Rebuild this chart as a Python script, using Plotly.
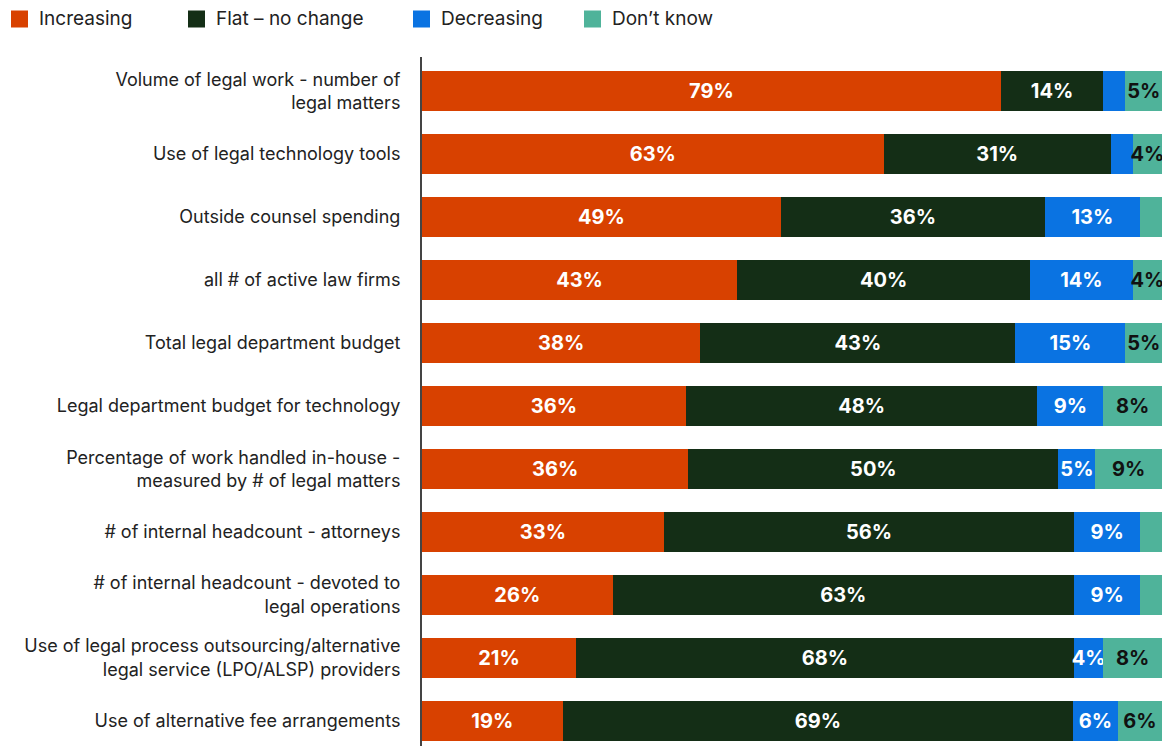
import plotly.graph_objects as go

# Survey items, top to bottom
categories = [
    "Volume of legal work - number of<br>legal matters",
    "Use of legal technology tools",
    "Outside counsel spending",
    "all # of active law firms",
    "Total legal department budget",
    "Legal department budget for technology",
    "Percentage of work handled in-house -<br>measured by # of legal matters",
    "# of internal headcount - attorneys",
    "# of internal headcount - devoted to<br>legal operations",
    "Use of legal process outsourcing/alternative<br>legal service (LPO/ALSP) providers",
    "Use of alternative fee arrangements",
]

increasing = [79, 63, 49, 43, 38, 36, 36, 33, 26, 21, 19]
flat = [14, 31, 36, 40, 43, 48, 50, 56, 63, 68, 69]
decreasing = [3, 3, 13, 14, 15, 9, 5, 9, 9, 4, 6]
dont_know = [5, 4, 3, 4, 5, 8, 9, 3, 3, 8, 6]

# Segments too narrow to carry a label stay unlabeled
min_label = 4

series = [
    ("Increasing", increasing, "#D84100", "white"),
    ("Flat \u2013 no change", flat, "#142E16", "white"),
    ("Decreasing", decreasing, "#0A73E2", "white"),
    ("Don\u2019t know", dont_know, "#4FB39A", "#111111"),
]

# Page geometry (pixels) used to place the custom legend row
W, H = 1175, 746
ML, MR, MT, MB = 422, 13, 57, 0
plot_w = W - ML - MR
plot_h = H - MT - MB
legend_x_px = [11, 188, 413, 584]   # left edge of each legend swatch
legend_y_px = 19                    # vertical centre of the legend row
swatch = 17


def px_to_paper_x(px):
    return (px - ML) / plot_w


def px_to_paper_y(py):
    return 1 + (MT - py) / plot_h


fig = go.Figure()
for (name, values, color, txtcolor), lx in zip(series, legend_x_px):
    labels = [f"{v}%" if v >= min_label else "" for v in values]
    fig.add_trace(go.Bar(
        name=name,
        y=categories,
        x=values,
        orientation="h",
        marker=dict(color=color, line=dict(width=0)),
        text=labels,
        textposition="inside",
        insidetextanchor="middle",
        textangle=0,
        constraintext="none",
        textfont=dict(family="Inter", size=20, color=txtcolor, weight=700),
        hoverinfo="skip",
        showlegend=False,
    ))
    # legend swatch + label
    fig.add_shape(
        type="rect",
        xref="paper", yref="paper",
        xsizemode="pixel", ysizemode="pixel",
        xanchor=px_to_paper_x(lx), yanchor=px_to_paper_y(legend_y_px),
        x0=0, x1=swatch, y0=-swatch / 2, y1=swatch / 2,
        fillcolor=color, line=dict(width=0),
    )
    fig.add_annotation(
        xref="paper", yref="paper",
        x=px_to_paper_x(lx + swatch + 9), y=px_to_paper_y(legend_y_px),
        xanchor="left", yanchor="middle",
        text=name, showarrow=False,
        font=dict(family="Inter", size=19, color="#222222"),
    )

fig.update_layout(
    width=W,
    height=H,
    barmode="stack",
    barnorm="percent",
    bargap=0.365,
    plot_bgcolor="white",
    paper_bgcolor="white",
    margin=dict(l=ML, r=MR, t=MT, b=MB),
    uniformtext=dict(minsize=20, mode="show"),
    font=dict(family="Inter", color="#222222"),
    showlegend=False,
)

fig.update_xaxes(range=[0, 100], visible=False)
fig.update_yaxes(
    autorange=False,
    range=[10.4, -0.54],
    showline=True,
    linecolor="#444444",
    linewidth=2,
    showgrid=False,
    ticks="",
    ticklabelstandoff=16,
    tickfont=dict(family="Inter", size=18, color="#222222"),
)

fig.write_html("out.html")
